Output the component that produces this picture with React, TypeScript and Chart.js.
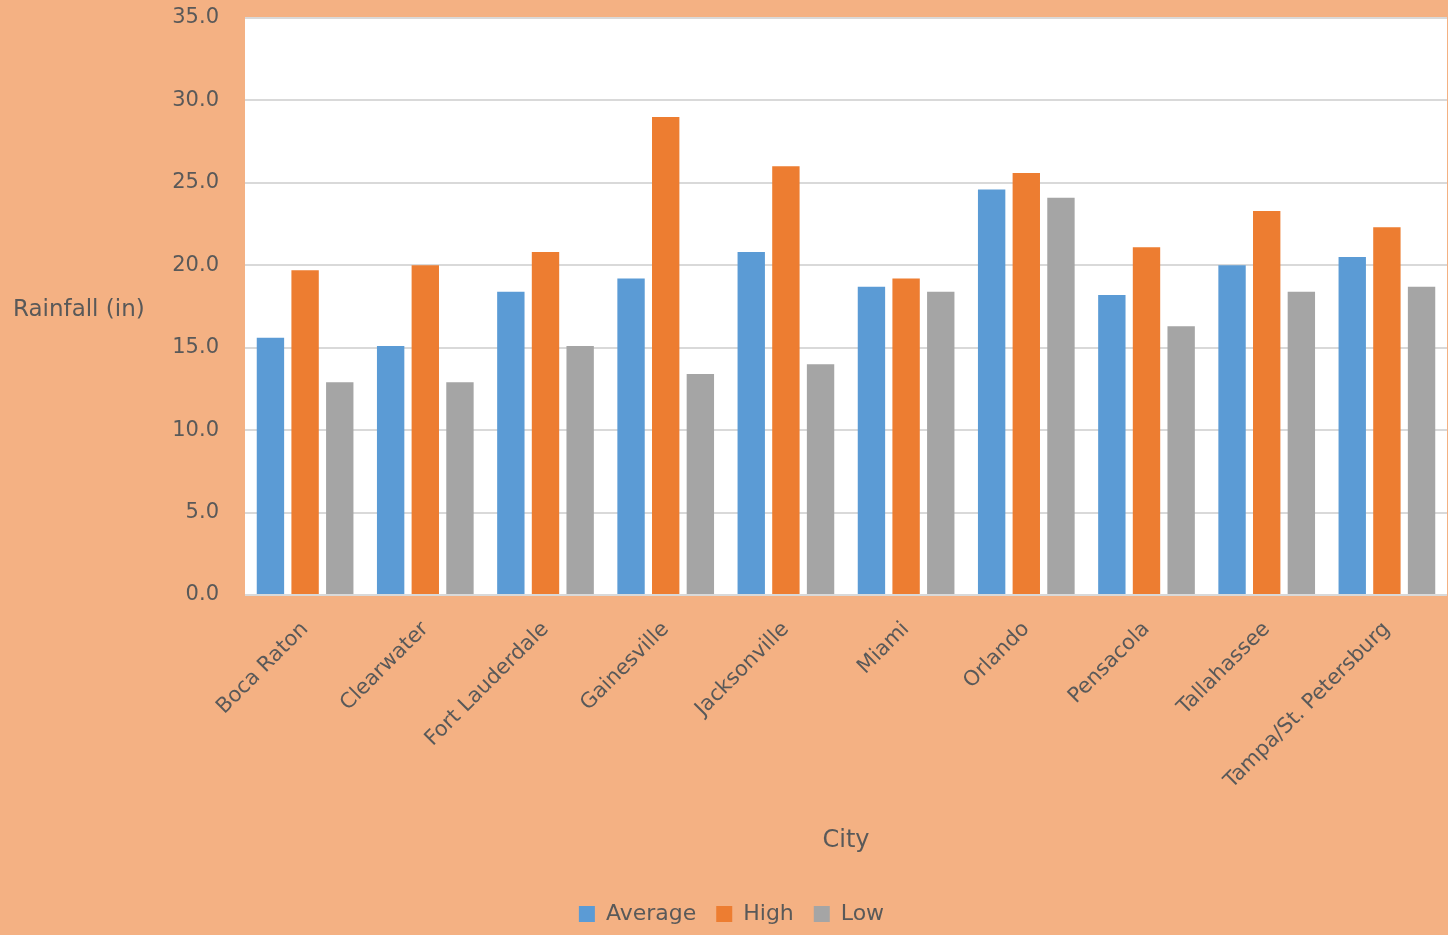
import React, { useEffect, useRef } from 'react';
import { Chart, registerables } from 'chart.js';

Chart.register(...registerables);

const cities = [
  'Boca Raton',
  'Clearwater',
  'Fort Lauderdale',
  'Gainesville',
  'Jacksonville',
  'Miami',
  'Orlando',
  'Pensacola',
  'Tallahassee',
  'Tampa/St. Petersburg',
];
const averageRain = [15.6, 15.1, 18.4, 19.2, 20.8, 18.7, 24.6, 18.2, 20.0, 20.5];
const highRain = [19.7, 20.0, 20.8, 29.0, 26.0, 19.2, 25.6, 21.1, 23.3, 22.3];
const lowRain = [12.9, 12.9, 15.1, 13.4, 14.0, 18.4, 24.1, 16.3, 18.4, 18.7];

const seriesNames = ['Average', 'High', 'Low'];
const yAxisTitle = 'Rainfall (in)';
const xAxisTitle = 'City';

const FONT = "'Comic Sans MS', 'DejaVu Sans', sans-serif";
const TEXT = '#595959';

const backgroundPlugin = {
  id: 'bgFill',
  beforeDraw(chart: any) {
    const { ctx, chartArea } = chart;
    ctx.save();
    ctx.fillStyle = '#F4B183';
    ctx.fillRect(0, 0, chart.width, chart.height);
    ctx.fillStyle = '#FFFFFF';
    ctx.fillRect(chartArea.left, chartArea.top, chartArea.right - chartArea.left, chartArea.bottom - chartArea.top);
    ctx.restore();
  },
};

const yTitlePlugin = {
  id: 'yTitleHorizontal',
  afterDraw(chart: any) {
    const { ctx } = chart;
    ctx.save();
    ctx.fillStyle = TEXT;
    ctx.font = `23px ${FONT}`;
    ctx.textAlign = 'left';
    ctx.textBaseline = 'middle';
    const yMid = chart.scales.y.getPixelForValue(17.3);
    ctx.fillText(yAxisTitle, 13, yMid);
    ctx.restore();
  },
};

export default function App() {
  const canvasRef = useRef<HTMLCanvasElement | null>(null);

  useEffect(() => {
    document.body.style.margin = '0';
    const canvas = canvasRef.current;
    if (!canvas) return;
    const chart = new Chart(canvas, {
      type: 'bar',
      data: {
        labels: cities,
        datasets: [
          { label: seriesNames[0], data: averageRain, backgroundColor: '#5B9BD5' },
          { label: seriesNames[1], data: highRain, backgroundColor: '#ED7D31' },
          { label: seriesNames[2], data: lowRain, backgroundColor: '#A5A5A5' },
        ],
      },
      options: {
        animation: false,
        responsive: true,
        maintainAspectRatio: false,
        devicePixelRatio: 1,
        datasets: {
          bar: { categoryPercentage: 0.865, barPercentage: 0.79 },
        },
        layout: { padding: { top: 18, right: 1, left: 16, bottom: 0 } },
        plugins: {
          legend: {
            position: 'bottom',
            labels: {
              boxWidth: 16,
              boxHeight: 16,
              padding: 20,
              color: TEXT,
              font: { family: FONT, size: 22 },
            },
          },
          tooltip: { enabled: false },
          title: { display: false },
        },
        scales: {
          x: {
            grid: { display: false },
            border: { display: false },
            ticks: {
              color: TEXT,
              font: { family: FONT, size: 21 },
              minRotation: 45,
              maxRotation: 45,
              padding: 14,
              autoSkip: false,
            },
            title: {
              display: true,
              text: xAxisTitle,
              color: TEXT,
              font: { family: FONT, size: 24 },
              padding: { top: 0, bottom: 28 },
            },
            afterFit(scale: any) {
              scale.height = 288;
            },
          },
          y: {
            min: 0,
            max: 35,
            ticks: {
              stepSize: 5,
              color: TEXT,
              font: { family: FONT, size: 21 },
              padding: 2,
              callback: (v: any) => Number(v).toFixed(1),
            },
            grid: {
              color: '#D9D9D9',
              lineWidth: 2,
              drawTicks: true,
              tickLength: 24,
              tickColor: 'rgba(0,0,0,0)',
            },
            border: { display: false },
            afterFit(scale: any) {
              scale.width = 229;
            },
          },
        },
      },
      plugins: [backgroundPlugin, yTitlePlugin],
    });
    return () => chart.destroy();
  }, []);

  return (
    <div style={{ width: 1448, height: 935, position: 'relative' }}>
      <canvas ref={canvasRef} />
    </div>
  );
}
